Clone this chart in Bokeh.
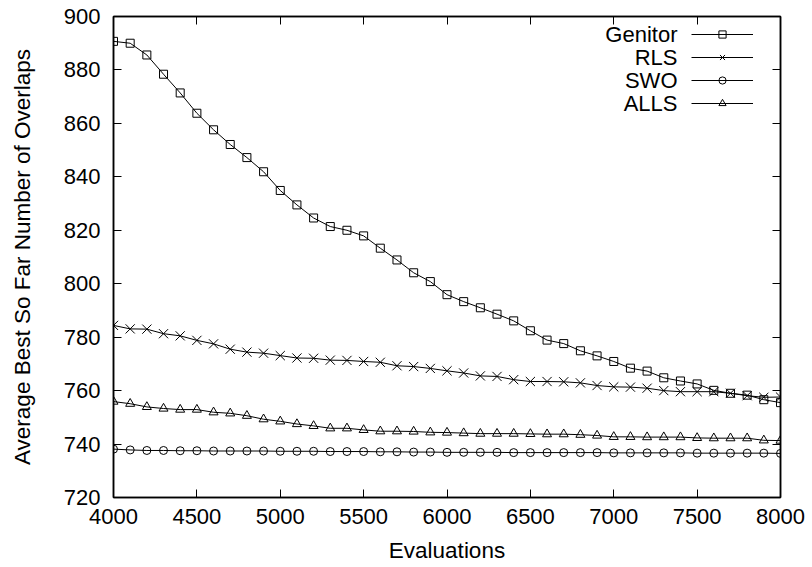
from bokeh.plotting import figure
from bokeh.models import (Range1d, LinearAxis, Legend, LegendItem, Label, FixedTicker,
                          CustomJSTickFormatter)
from bokeh.embed import file_html
from bokeh.resources import INLINE

evaluations = list(range(4000, 8001, 100))

genitor = [890.7, 890.0, 885.6, 878.4, 871.4, 863.8, 857.6, 852.1, 847.2, 841.9,
           834.9, 829.5, 824.6, 821.4, 820.0, 817.9, 813.3, 808.9, 804.1, 800.8,
           795.9, 793.3, 791.0, 788.6, 786.1, 782.4, 778.9, 777.6, 774.9, 773.0,
           770.9, 768.4, 767.3, 764.8, 763.6, 762.5, 760.1, 759.0, 758.3, 756.6,
           755.5]
rls = [784.4, 783.1, 783.0, 781.3, 780.5, 778.8, 777.5, 775.5, 774.4, 774.0,
       773.1, 772.2, 772.1, 771.4, 771.3, 770.9, 770.6, 769.3, 769.0, 768.3,
       767.4, 766.6, 765.5, 765.3, 764.1, 763.4, 763.4, 763.3, 762.9, 761.9,
       761.4, 761.3, 760.9, 760.0, 759.6, 759.6, 759.6, 759.0, 758.1, 757.5,
       757.6]
swo = [738.1, 737.8, 737.6, 737.6, 737.5, 737.5, 737.4, 737.4, 737.4, 737.4,
       737.3, 737.3, 737.3, 737.2, 737.2, 737.2, 737.1, 737.1, 737.0, 737.0,
       736.9, 736.9, 736.9, 736.9, 736.8, 736.8, 736.8, 736.8, 736.8, 736.8,
       736.7, 736.7, 736.7, 736.7, 736.7, 736.6, 736.6, 736.6, 736.6, 736.6,
       736.5]
alls = [755.9, 755.1, 753.9, 753.3, 752.9, 752.9, 751.9, 751.5, 750.6, 749.3,
        748.5, 747.5, 746.8, 745.9, 745.9, 745.3, 744.8, 744.8, 744.7, 744.4,
        744.3, 744.1, 743.9, 743.9, 743.9, 743.8, 743.7, 743.7, 743.5, 743.2,
        742.7, 742.7, 742.6, 742.6, 742.6, 742.3, 742.2, 742.2, 742.2, 741.4,
        741.3]

series_names = ["Genitor", "RLS", "SWO", "ALLS"]
series_values = [genitor, rls, swo, alls]
series_markers = ["square", "x", "circle", "triangle"]
series_sizes = [8, 13, 8, 9]

x_ticks = list(range(4000, 8001, 500))
y_ticks = list(range(720, 901, 20))

FONT = "Liberation Sans"

p = figure(width=812, height=567, output_backend="svg", toolbar_location=None,
           x_range=Range1d(4000, 8000), y_range=Range1d(720, 900),
           min_border_left=113, min_border_right=32, min_border_top=16,
           min_border_bottom=70)
p.xgrid.visible = False
p.ygrid.visible = False
p.outline_line_color = "black"
p.outline_line_width = 1.5
p.background_fill_color = "white"
p.border_fill_color = "white"


def style_axis(ax, ticks, show_labels=True):
    ax.ticker = FixedTicker(ticks=ticks)
    ax.major_tick_in = 8
    ax.major_tick_out = 0
    ax.minor_tick_in = 0
    ax.minor_tick_out = 0
    ax.axis_line_color = "black"
    ax.axis_line_width = 1.5
    ax.major_tick_line_color = "black"
    ax.major_label_text_font = FONT
    ax.major_label_text_color = "black"
    ax.major_label_text_font_size = "22px"
    ax.axis_label_text_font = FONT
    ax.axis_label_text_font_style = "normal"
    ax.axis_label_text_color = "black"
    if not show_labels:
        ax.formatter = CustomJSTickFormatter(code="return ''")
        ax.major_label_standoff = 0


xa = p.xaxis[0]
style_axis(xa, x_ticks)
xa.major_label_standoff = 11
xa.axis_label = "Evaluations"
xa.axis_label_text_font_size = "22.5px"
xa.axis_label_standoff = 11

ya = p.yaxis[0]
style_axis(ya, y_ticks)
ya.major_label_standoff = 13
ya.axis_label = "Average Best So Far Number of Overlaps"
ya.axis_label_text_font_size = "22.5px"
ya.axis_label_standoff = 26

top_axis = LinearAxis()
style_axis(top_axis, x_ticks, show_labels=False)
p.add_layout(top_axis, "above")
right_axis = LinearAxis()
style_axis(right_axis, y_ticks, show_labels=False)
p.add_layout(right_axis, "right")

items = []
for name, vals, mk, sz in zip(series_names, series_values, series_markers, series_sizes):
    ln = p.line(evaluations, vals, line_color="black", line_width=1)
    sc = p.scatter(evaluations, vals, marker=mk, size=sz, line_color="black",
                   fill_color=None, line_width=1)
    items.append(LegendItem(label=" ", renderers=[ln, sc]))

row_h = 18
row_gap = 5
legend = Legend(items=items, location=(578, 385), glyph_width=62, glyph_height=row_h,
                spacing=row_gap, padding=0, margin=0, label_standoff=0, label_width=0,
                label_text_font_size="0px", border_line_color=None,
                background_fill_alpha=0)
p.add_layout(legend)

# legend texts (placed left of each legend sample, gnuplot style)
top_center = 462.7
for i, name in enumerate(series_names):
    p.add_layout(Label(x=564, y=top_center - i * (row_h + row_gap), x_units="screen",
                       y_units="screen", text=name, text_align="right",
                       text_baseline="middle", text_font=FONT,
                       text_font_size="22px", text_color="black"))

open("out.html", "w").write(file_html(p, INLINE))
